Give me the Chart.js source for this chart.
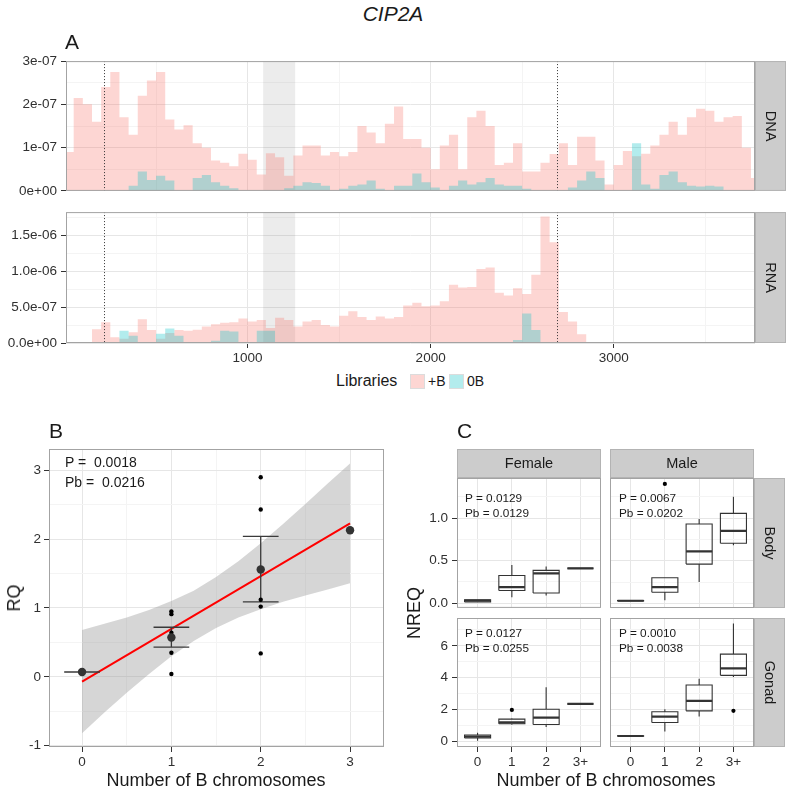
<!DOCTYPE html>
<html>
<head>
<meta charset="utf-8">
<script src="https://cdn.jsdelivr.net/npm/chart.js@4.4.1/dist/chart.umd.min.js"></script>
<style>
    body { margin: 0; background: #fff; }
    #wrap { position: relative; width: 787px; height: 790px; overflow: hidden; background: #fff; }
    canvas { position: absolute; }
    .t { position: absolute; font-family: "Liberation Sans", Arial, Helvetica, sans-serif; line-height: 1; white-space: pre; color: #1a1a1a; }
    .c { transform: translate(-50%, -50%); }
    .l { transform: translate(0, -50%); }
    .v { transform: translate(-50%, -50%) rotate(-90deg); }
    .key { position: absolute; width: 15px; height: 15px; box-sizing: border-box; border: 1px solid #dcdcdc; }
</style>
</head>
<body>
<div id="wrap">
    <canvas id="dna"></canvas>
    <canvas id="rna"></canvas>
    <canvas id="rq"></canvas>
    <canvas id="fb"></canvas>
    <canvas id="mb"></canvas>
    <canvas id="fg"></canvas>
    <canvas id="mg"></canvas>

    <div class="t c" style="left:393px;top:13px;font-size:21px;font-style:italic">CIP2A</div>
    <div class="t l" style="left:65px;top:41px;font-size:21px">A</div>

    <div class="t l" style="left:336px;top:381px;font-size:16px">Libraries</div>
    <div class="key" style="left:410px;top:374px;background:rgb(253,214,211)"></div>
    <div class="t l" style="left:428px;top:381px;font-size:14px">+B</div>
    <div class="key" style="left:449px;top:374px;background:rgb(179,236,237)"></div>
    <div class="t l" style="left:467px;top:381px;font-size:14px">0B</div>

    <div class="t l" style="left:49px;top:430px;font-size:21px">B</div>
    <div class="t l" style="left:457px;top:430px;font-size:21px">C</div>

    <div class="t l" style="left:65px;top:462px;font-size:14px">P =  0.0018</div>
    <div class="t l" style="left:65px;top:482px;font-size:14px">Pb =  0.0216</div>
    <div class="t v" style="left:14px;top:598px;font-size:18px">RQ</div>
    <div class="t c" style="left:216px;top:780px;font-size:18px">Number of B chromosomes</div>

    <div class="t l" style="left:465px;top:499px;font-size:11.8px">P = 0.0129</div>
    <div class="t l" style="left:465px;top:514px;font-size:11.8px">Pb = 0.0129</div>
    <div class="t l" style="left:619px;top:499px;font-size:11.8px">P = 0.0067</div>
    <div class="t l" style="left:619px;top:514px;font-size:11.8px">Pb = 0.0202</div>
    <div class="t l" style="left:465px;top:634px;font-size:11.8px">P = 0.0127</div>
    <div class="t l" style="left:465px;top:649px;font-size:11.8px">Pb = 0.0255</div>
    <div class="t l" style="left:619px;top:634px;font-size:11.8px">P = 0.0010</div>
    <div class="t l" style="left:619px;top:649px;font-size:11.8px">Pb = 0.0038</div>
    <div class="t v" style="left:414px;top:613px;font-size:18px">NREQ</div>
    <div class="t c" style="left:606px;top:780px;font-size:18px">Number of B chromosomes</div>
</div>

<script>
// --- A: coverage along CIP2A (bins of 50 nt, values in units of 1e-7) ---
const binWidth = 50;
const dnaPlusB = [0.9, 2.15, 2.0, 1.6, 2.4, 2.75, 1.7, 1.3, 2.2, 2.55,
    2.75, 1.65, 1.42, 1.52, 1.1, 1.0, 0.7, 0.65, 0.57, 0.86,
    0.72, 0.38, 0.87, 0.78, 0.35, 0.82, 1.05, 1.05, 0.82, 0.9,
    0.8, 0.9, 1.5, 1.35, 1.1, 1.55, 1.95, 1.2, 1.2, 1.0,
    0.5, 1.05, 1.3, 0.5, 1.7, 1.85, 1.5, 0.6, 0.65, 1.1,
    0.45, 0.45, 0.65, 0.85, 1.1, 0.6, 1.25, 1.25, 0.7, 0.15,
    0.6, 0.92, 0.8, 0.86, 1.05, 1.3, 1.6, 1.3, 1.7, 1.9,
    1.85, 1.6, 1.7, 1.73, 1.0, 0.3];
const dna0B = [0, 0, 0, 0, 0, 0, 0, 0.12, 0.45, 0.25,
    0.35, 0.24, 0, 0, 0.3, 0.37, 0.2, 0.12, 0.06, 0,
    0, 0, 0, 0, 0.06, 0.12, 0.2, 0.18, 0.12, 0,
    0.05, 0.12, 0.15, 0.24, 0.05, 0, 0.12, 0.12, 0.4, 0.2,
    0.08, 0, 0.12, 0.24, 0.15, 0.2, 0.3, 0.15, 0.12, 0.12,
    0.05, 0, 0, 0, 0, 0.08, 0.24, 0.45, 0.3, 0,
    0, 0, 1.1, 0.15, 0.05, 0.37, 0.45, 0.2, 0.12, 0.1,
    0.12, 0.1, 0, 0, 0, 0];
const rnaPlusB = [0, 0, 0.1, 1.9, 2.9, 0.8, 0.6, 1.5, 3.3, 1.8,
    0.6, 1.4, 1.8, 1.7, 1.85, 2.3, 2.6, 2.8, 2.9, 3.4,
    3.0, 3.2, 2.1, 3.5, 3.2, 2.3, 3.0, 3.2, 2.5, 2.3,
    3.8, 4.4, 3.6, 3.2, 3.7, 3.4, 3.6, 5.2, 5.6, 5.1,
    5.2, 5.8, 8.1, 7.7, 7.8, 10.3, 10.5, 7.0, 6.6, 7.6,
    6.8, 9.5, 17.6, 14, 4.3, 3.0, 1.2, 0, 0, 0,
    0, 0, 0, 0.1, 0, 0, 0, 0, 0, 0,
    0, 0, 0, 0, 0, 0];
const rna0B = [0, 0, 0, 0, 0, 0, 1.7, 1.0, 0, 0,
    1.3, 2.0, 1.0, 0, 0, 0, 0.3, 1.7, 1.6, 0,
    0, 1.7, 1.7, 0, 0, 0, 0, 0, 0, 0,
    0, 0, 0, 0, 0, 0, 0, 0, 0, 0,
    0, 0, 0, 0, 0, 0, 0, 0, 0, 0.4,
    4.1, 1.8, 0, 0, 0, 0, 0, 0, 0, 0,
    0, 0, 0, 0, 0, 0, 0, 0, 0, 0,
    0, 0, 0, 0, 0, 0];
const greyBand = [1085, 1260];
const dottedAt = [217, 2692];
const posMajor = [1000, 2000, 3000];
const posLabels = ['1000', '2000', '3000'];
const posMinor = [500, 1500, 2500, 3500];
const dnaMajor = [0, 1, 2, 3];
const dnaLabels = ['0e+00', '1e-07', '2e-07', '3e-07'];
const dnaMinor = [0.5, 1.5, 2.5];
const rnaMajor = [0, 5, 10, 15];
const rnaLabels = ['0.0e+00', '5.0e-07', '1.0e-06', '1.5e-06'];
const rnaMinor = [2.5, 7.5, 12.5, 17.5];

// --- B: RQ vs number of B chromosomes ---
const rqPointX = [0, 0, 0, 1, 1, 1, 1, 1, 2, 2, 2, 2, 2, 3];
const rqPointY = [0.06, 0.07, 0.08, 0.95, 0.91, 0.64, 0.35, 0.04, 2.90, 2.43, 1.12, 1.02, 0.34, 2.13];
const rqGroups = [0, 1, 2, 3];
const rqMean = [0.07, 0.57, 1.56, 2.13];
const rqSeLow = [0.07, 0.43, 1.09, null];
const rqSeHigh = [0.07, 0.72, 2.04, null];
const fitX = [0, 3];
const fitY = [-0.07, 2.23];
const bandX = [0, 0.25, 0.5, 0.75, 1, 1.25, 1.5, 1.75, 2, 2.25, 2.5, 2.75, 3];
const bandLow = [-0.82, -0.52, -0.23, 0.04, 0.30, 0.52, 0.71, 0.86, 0.98, 1.09, 1.18, 1.27, 1.36];
const bandHigh = [0.68, 0.77, 0.86, 0.97, 1.10, 1.25, 1.45, 1.68, 1.94, 2.22, 2.51, 2.81, 3.10];
const rqXMajor = [0, 1, 2, 3];
const rqXLabels = ['0', '1', '2', '3'];
const rqXMinor = [0.5, 1.5, 2.5];
const rqYMajor = [-1, 0, 1, 2, 3];
const rqYLabels = ['-1', '0', '1', '2', '3'];
const rqYMinor = [-0.5, 0.5, 1.5, 2.5];

// --- C: NREQ boxplots (groups 0, 1, 2, 3+) ---
const groups = [0, 1, 2, 3];
const groupLabels = ['0', '1', '2', '3+'];
const fbLo = [0.01, 0.07, 0.09, 0.41];
const fbQ1 = [0.015, 0.15, 0.12, 0.41];
const fbMed = [0.03, 0.19, 0.35, 0.41];
const fbQ3 = [0.04, 0.325, 0.385, 0.41];
const fbHi = [0.045, 0.45, 0.43, 0.41];
const fbOutX = [], fbOutY = [];
const mbLo = [0.025, 0.035, 0.25, 0.68];
const mbQ1 = [0.028, 0.13, 0.46, 0.705];
const mbMed = [0.03, 0.19, 0.61, 0.85];
const mbQ3 = [0.032, 0.30, 0.93, 1.055];
const mbHi = [0.035, 0.30, 0.99, 1.25];
const mbOutX = [1], mbOutY = [1.40];
const fgLo = [0.05, 1.05, 0.9, 2.36];
const fgQ1 = [0.22, 1.11, 1.06, 2.36];
const fgMed = [0.31, 1.19, 1.5, 2.36];
const fgQ3 = [0.40, 1.40, 2.02, 2.36];
const fgHi = [0.55, 1.45, 3.4, 2.36];
const fgOutX = [1], fgOutY = [1.98];
const mgLo = [0.32, 0.63, 1.56, 4.05];
const mgQ1 = [0.33, 1.19, 1.92, 4.15];
const mgMed = [0.34, 1.56, 2.54, 4.59];
const mgQ3 = [0.35, 1.86, 3.54, 5.48];
const mgHi = [0.36, 2.02, 3.94, 7.4];
const mgOutX = [3], mgOutY = [1.92];
const bodyMajor = [0, 0.5, 1.0];
const bodyLabels = ['0.0', '0.5', '1.0'];
const bodyMinor = [0.25, 0.75, 1.25];
const gonadMajor = [0, 2, 4, 6];
const gonadLabels = ['0', '2', '4', '6'];
const gonadMinor = [1, 3, 5, 7];

const boxHalf = 0.38;
const capHalf = 0.2;
const FONT = '"Liberation Sans", Arial, Helvetica, sans-serif';
Chart.defaults.font.family = FONT;
Chart.defaults.color = '#303030';

/**
 * Panel border, strips, highlighted region and dotted markers
 */
const deco = {
    id: 'deco',
    defaults: { band: false, vlines: false, right: '', top: '' },
    beforeDatasetsDraw(chart, args, o) {
        if (!o.band) return;
        const { ctx, chartArea: a } = chart;
        const x = chart.scales.x;
        const x0 = x.getPixelForValue(greyBand[0]);
        const x1 = x.getPixelForValue(greyBand[1]);
        ctx.save();
        ctx.fillStyle = 'rgba(120,120,120,0.14)';
        ctx.fillRect(x0, a.top, x1 - x0, a.bottom - a.top);
        ctx.restore();
    },
    afterDatasetsDraw(chart, args, o) {
        if (!o.vlines) return;
        const { ctx, chartArea: a } = chart;
        const x = chart.scales.x;
        ctx.save();
        ctx.strokeStyle = '#333';
        ctx.lineWidth = 1;
        ctx.setLineDash([1, 2]);
        dottedAt.forEach(v => {
            const px = Math.round(x.getPixelForValue(v)) + 0.5;
            ctx.beginPath();
            ctx.moveTo(px, a.top);
            ctx.lineTo(px, a.bottom);
            ctx.stroke();
        });
        ctx.restore();
    },
    afterDraw(chart, args, o) {
        const { ctx, chartArea: a } = chart;
        ctx.save();
        ctx.strokeStyle = '#a3a3a3';
        ctx.lineWidth = 1;
        ctx.strokeRect(a.left + 0.5, a.top + 0.5, a.right - a.left - 1, a.bottom - a.top - 1);
        ctx.font = '14.5px ' + FONT;
        ctx.textAlign = 'center';
        ctx.textBaseline = 'middle';
        if (o.right) {
            ctx.save();
            ctx.fillStyle = '#cccccc';
            ctx.fillRect(a.right, a.top, 31, a.bottom - a.top);
            ctx.strokeStyle = '#b3b3b3';
            ctx.strokeRect(a.right + 0.5, a.top + 0.5, 30, a.bottom - a.top - 1);
            ctx.fillStyle = '#1a1a1a';
            ctx.translate(a.right + 15.5, (a.top + a.bottom) / 2);
            ctx.rotate(Math.PI / 2);
            ctx.fillText(o.right, 0, 1);
            ctx.restore();
        }
        if (o.top) {
            ctx.fillStyle = '#cccccc';
            ctx.fillRect(a.left, a.top - 29, a.right - a.left, 29);
            ctx.strokeStyle = '#b3b3b3';
            ctx.strokeRect(a.left + 0.5, a.top - 28.5, a.right - a.left - 1, 28);
            ctx.fillStyle = '#1a1a1a';
            ctx.fillText(o.top, (a.left + a.right) / 2, a.top - 14);
        }
        ctx.restore();
    }
};
Chart.register(deco);

// canvas placement so that the plot area lands on the given rectangle
const place = (id, plot, m) => {
    const c = document.getElementById(id);
    c.width = plot.r - plot.l + m.l + m.r;
    c.height = plot.b - plot.t + m.t + m.b;
    c.style.left = (plot.l - m.l) + 'px';
    c.style.top = (plot.t - m.t) + 'px';
    return c;
};

const axis = (o) => ({
    type: 'linear',
    min: o.min,
    max: o.max,
    afterBuildTicks: s => {
        s.ticks = o.major.map((v, i) => ({ value: v, lab: o.labels[i], mj: true }))
            .concat((o.minor || []).map(v => ({ value: v, lab: '', mj: false })))
            .sort((p, q) => p.value - q.value);
    },
    afterFit: s => {
        if (o.w !== undefined) s.width = o.w;
        if (o.h !== undefined) s.height = o.h;
    },
    ticks: {
        display: o.show,
        autoSkip: false,
        maxRotation: 0,
        padding: o.pad === undefined ? 3 : o.pad,
        color: '#303030',
        font: { size: 13.5 },
        callback: (v, i, t) => t[i].lab
    },
    grid: {
        color: c => (c.tick && c.tick.mj) ? '#e6e6e6' : '#f4f4f4',
        lineWidth: 1,
        drawTicks: o.marks,
        tickLength: 5,
        tickColor: c => (c.tick && c.tick.mj) ? '#333' : 'rgba(0,0,0,0)'
    },
    border: { display: false }
});

const baseOptions = (m, scales, decoOpts) => ({
    responsive: false,
    animation: false,
    events: [],
    layout: { padding: { left: 0, top: m.t, right: m.r, bottom: 0 } },
    plugins: { legend: { display: false }, tooltip: { enabled: false }, deco: decoOpts },
    scales
});

const stepData = (vals) => {
    const pts = vals.map((v, i) => ({ x: i * binWidth, y: v }));
    pts.push({ x: vals.length * binWidth, y: vals[vals.length - 1] });
    return pts;
};

const coverageSets = (plus, zero) => [
    {
        data: stepData(zero), stepped: true, fill: 'origin',
        backgroundColor: 'rgba(0,191,196,0.3)', borderWidth: 0, pointRadius: 0, order: 0
    },
    {
        data: stepData(plus), stepped: true, fill: 'origin',
        backgroundColor: 'rgba(248,118,109,0.3)', borderWidth: 0, pointRadius: 0, order: 1
    }
];

// A - DNA
{
    const plot = { l: 66, t: 61, r: 755, b: 191 }, m = { l: 66, t: 12, r: 32, b: 12 };
    new Chart(place('dna', plot, m), {
        type: 'line',
        data: { datasets: coverageSets(dnaPlusB, dna0B) },
        options: baseOptions(m, {
            x: axis({ min: 8, max: 3772, major: posMajor, labels: posLabels, minor: posMinor, show: false, marks: false, h: m.b }),
            y: axis({ min: 0, max: 3.0, major: dnaMajor, labels: dnaLabels, minor: dnaMinor, show: true, marks: true, w: m.l, pad: 4 })
        }, { band: true, vlines: true, right: 'DNA' })
    });
}

// A - RNA
{
    const plot = { l: 66, t: 212, r: 755, b: 343 }, m = { l: 66, t: 12, r: 32, b: 26 };
    new Chart(place('rna', plot, m), {
        type: 'line',
        data: { datasets: coverageSets(rnaPlusB, rna0B) },
        options: baseOptions(m, {
            x: axis({ min: 8, max: 3772, major: posMajor, labels: posLabels, minor: posMinor, show: true, marks: true, h: m.b, pad: 2 }),
            y: axis({ min: 0, max: 18.2, major: rnaMajor, labels: rnaLabels, minor: rnaMinor, show: true, marks: true, w: m.l, pad: 4 })
        }, { band: true, vlines: true, right: 'RNA' })
    });
}

// B - RQ
{
    const plot = { l: 49, t: 449, r: 384, b: 747 }, m = { l: 49, t: 12, r: 8, b: 26 };
    const errPts = [];
    rqGroups.forEach((g, i) => {
        if (rqSeLow[i] === null) return;
        errPts.push({ x: g, y: rqSeLow[i] }, { x: g, y: rqSeHigh[i] }, { x: g, y: null },
            { x: g - capHalf, y: rqSeHigh[i] }, { x: g + capHalf, y: rqSeHigh[i] }, { x: g, y: null },
            { x: g - capHalf, y: rqSeLow[i] }, { x: g + capHalf, y: rqSeLow[i] }, { x: g, y: null });
    });
    new Chart(place('rq', plot, m), {
        type: 'scatter',
        data: {
            datasets: [
                {
                    data: rqGroups.map((g, i) => ({ x: g, y: rqMean[i] })),
                    pointRadius: 4.2, backgroundColor: '#333', borderWidth: 0, order: 0
                },
                {
                    data: rqPointX.map((x, i) => ({ x, y: rqPointY[i] })),
                    pointRadius: 2.2, backgroundColor: '#000', borderWidth: 0, order: 1
                },
                {
                    data: errPts, showLine: true, borderColor: '#3a3a3a', borderWidth: 1.3,
                    pointRadius: 0, spanGaps: false, order: 2
                },
                {
                    data: fitX.map((x, i) => ({ x, y: fitY[i] })), showLine: true,
                    borderColor: '#ff0000', borderWidth: 2, pointRadius: 0, order: 3
                },
                {
                    data: bandX.map((x, i) => ({ x, y: bandHigh[i] })), showLine: true, fill: '+1',
                    backgroundColor: 'rgba(153,153,153,0.4)', borderColor: 'rgba(0,0,0,0)', borderWidth: 0,
                    pointRadius: 0, order: 5
                },
                {
                    data: bandX.map((x, i) => ({ x, y: bandLow[i] })), showLine: true,
                    borderColor: 'rgba(0,0,0,0)', borderWidth: 0, pointRadius: 0, order: 6
                }
            ]
        },
        options: baseOptions(m, {
            x: axis({ min: -0.37, max: 3.38, major: rqXMajor, labels: rqXLabels, minor: rqXMinor, show: true, marks: true, h: m.b, pad: 2 }),
            y: axis({ min: -1.02, max: 3.31, major: rqYMajor, labels: rqYLabels, minor: rqYMinor, show: true, marks: true, w: m.l, pad: 3 })
        }, {})
    });
}

// C - boxplots
const boxPoints = (q1s, q3s, los, his) => {
    const pts = [];
    groups.forEach((g, i) => {
        const l = g - boxHalf, r = g + boxHalf;
        pts.push({ x: l, y: q1s[i] }, { x: r, y: q1s[i] }, { x: r, y: q3s[i] }, { x: l, y: q3s[i] }, { x: l, y: q1s[i] }, { x: g, y: null },
            { x: g, y: q3s[i] }, { x: g, y: his[i] }, { x: g, y: null },
            { x: g, y: los[i] }, { x: g, y: q1s[i] }, { x: g, y: null });
    });
    return pts;
};
const medianPoints = (meds) => {
    const pts = [];
    groups.forEach((g, i) => {
        pts.push({ x: g - boxHalf, y: meds[i] }, { x: g + boxHalf, y: meds[i] }, { x: g, y: null });
    });
    return pts;
};

const boxChart = (id, plot, m, st, yCfg, showX, showY, decoOpts) => {
    new Chart(place(id, plot, m), {
        type: 'scatter',
        data: {
            datasets: [
                {
                    data: st.outX.map((x, i) => ({ x, y: st.outY[i] })),
                    pointRadius: 2.1, backgroundColor: '#000', borderWidth: 0, order: 0
                },
                {
                    data: medianPoints(st.med), showLine: true, borderColor: '#333', borderWidth: 2.2,
                    pointRadius: 0, spanGaps: false, order: 1
                },
                {
                    data: boxPoints(st.q1, st.q3, st.lo, st.hi), showLine: true, borderColor: '#333',
                    borderWidth: 1.1, pointRadius: 0, spanGaps: false, order: 2
                }
            ]
        },
        options: baseOptions(m, {
            x: axis({ min: -0.6, max: 3.6, major: groups, labels: groupLabels, minor: [], show: showX, marks: showX, h: m.b, pad: 2 }),
            y: axis(Object.assign({ show: showY, marks: showY, w: m.l, pad: 4 }, yCfg))
        }, decoOpts)
    });
};

const bodyAxis = { min: -0.055, max: 1.47, major: bodyMajor, labels: bodyLabels, minor: bodyMinor };
const gonadAxis = { min: -0.35, max: 7.75, major: gonadMajor, labels: gonadLabels, minor: gonadMinor };

boxChart('fb', { l: 457, t: 478, r: 601, b: 608 }, { l: 57, t: 31, r: 4, b: 12 },
    { lo: fbLo, q1: fbQ1, med: fbMed, q3: fbQ3, hi: fbHi, outX: fbOutX, outY: fbOutY },
    bodyAxis, false, true, { top: 'Female' });
boxChart('mb', { l: 610, t: 478, r: 754, b: 608 }, { l: 4, t: 31, r: 33, b: 12 },
    { lo: mbLo, q1: mbQ1, med: mbMed, q3: mbQ3, hi: mbHi, outX: mbOutX, outY: mbOutY },
    bodyAxis, false, false, { top: 'Male', right: 'Body' });
boxChart('fg', { l: 457, t: 618, r: 601, b: 747 }, { l: 57, t: 14, r: 4, b: 26 },
    { lo: fgLo, q1: fgQ1, med: fgMed, q3: fgQ3, hi: fgHi, outX: fgOutX, outY: fgOutY },
    gonadAxis, true, true, {});
boxChart('mg', { l: 610, t: 618, r: 754, b: 747 }, { l: 4, t: 14, r: 33, b: 26 },
    { lo: mgLo, q1: mgQ1, med: mgMed, q3: mgQ3, hi: mgHi, outX: mgOutX, outY: mgOutY },
    gonadAxis, true, false, { right: 'Gonad' });
</script>
</body>
</html>
